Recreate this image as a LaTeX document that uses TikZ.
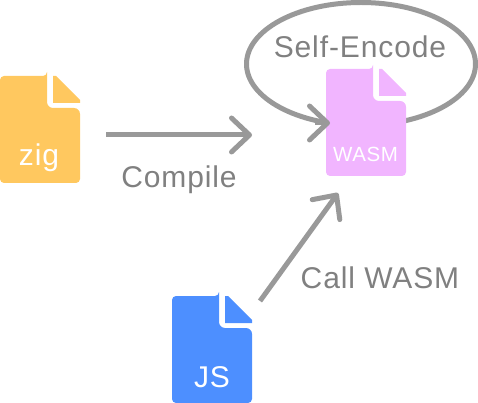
\documentclass[tikz,border=0pt]{standalone}
\usepackage{fontspec}
\setmainfont[LetterSpace=3]{Liberation Sans}
\usetikzlibrary{arrows.meta,shapes.geometric}
\definecolor{linegrey}{HTML}{999999}
\definecolor{textgrey}{HTML}{808080}
\definecolor{zigcol}{HTML}{FFC85F}
\definecolor{wasmcol}{HTML}{F1B5FF}
\definecolor{jscol}{HTML}{4D8FFF}
\tikzset{
  conn/.style={draw=linegrey,line width=5pt,-{Straight Barb[length=18pt,width=34pt,line cap=round,line join=round]}},
  loopring/.style={ellipse,draw=linegrey,line width=5pt,inner sep=0pt,outer sep=0pt,minimum width=229pt,minimum height=123pt},
  filebox/.style={rectangle,inner sep=0pt,outer sep=0pt,minimum width=80pt,minimum height=107pt},
  lab/.style={anchor=base,text=textgrey,font=\fontsize{30}{30}\selectfont,inner sep=0pt},
  filelab/.style={anchor=base,text=white,font=\fontsize{30}{30}\selectfont,inner sep=0pt},
}
\newcommand{\filedoc}[4]{% name, left, top, colour
  \node[filebox,anchor=north west] (#1) at (#2,#3) {};
  \begin{scope}[shift={(#2,#3)}]
    \fill[#4,rounded corners=4pt] (0,0) -- (47,0) [sharp corners] -- (47,0)
      [rounded corners=6pt] -- (47,32) -- (80,32) [rounded corners=4pt] -- (80,107) -- (0,107) -- cycle;
    \fill[#4] (53,0) -- (56,0) -- (80,24) -- (80,27) -- (53,27) -- cycle;
  \end{scope}
}
\begin{document}
\begin{tikzpicture}[x=1pt,y=-1pt]
  \useasboundingbox (0,0) rectangle (478,403);
  \node[loopring] (ring) at (361,64) {};
  \filedoc{zig}{0}{76}{zigcol}
  \filedoc{wasm}{326}{69}{wasmcol}
  \filedoc{js}{172}{296}{jscol}
  \node[filelab] (zigt) at (39,166) {zig};
  \node[filelab,font=\fontsize{20.5}{20.5}\selectfont] (wasmt) at (365.5,161.5) {WASM};
  \node[filelab] (jst) at (212,387.5) {JS};
  \node[lab] (selft) at (360,57.5) {Self-Encode};
  \node[lab] (compilet) at (179,187.5) {Compile};
  \node[lab] (callt) at (380,288.5) {Call WASM};
  \coordinate (compileA) at (106,135);
  \coordinate (compileB) at (252,135);
  \coordinate (callA) at (260,301);
  \coordinate (callB) at (338,193);
  \coordinate (loopA) at (315,123);
  \coordinate (loopB) at (330,123);
  \draw[conn] (compileA) -- (compileB);
  \draw[conn] (callA) -- (callB);
  \draw[conn] (loopA) -- (loopB);
\end{tikzpicture}
\end{document}
